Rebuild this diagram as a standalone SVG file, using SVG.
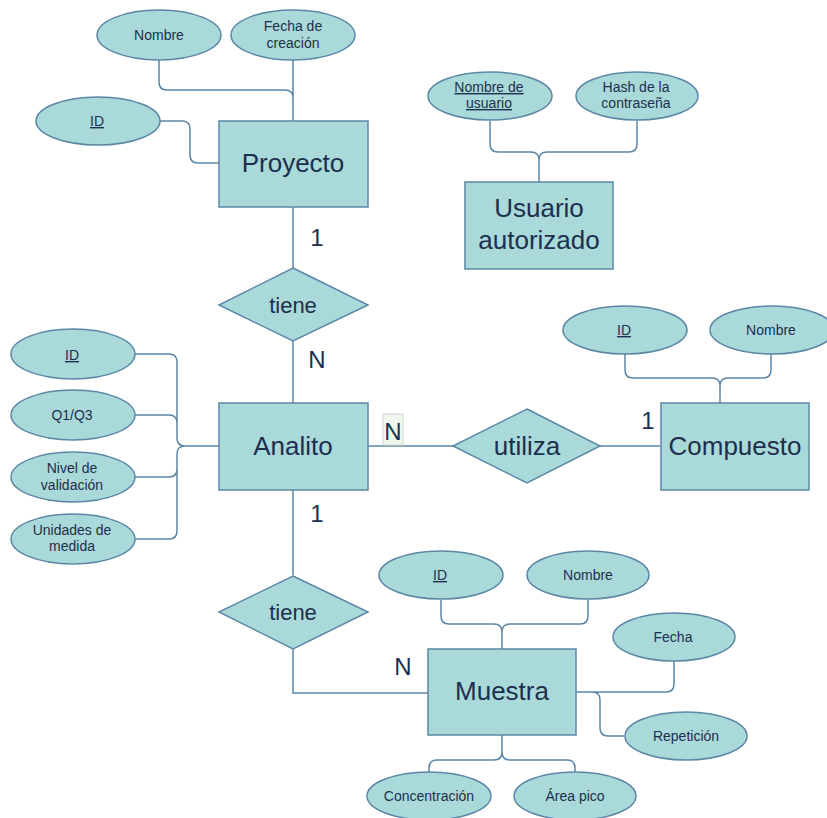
<svg xmlns="http://www.w3.org/2000/svg" width="827" height="818" viewBox="0 0 827 818">
<style>
.shape{fill:#a9d9d9;stroke:#5b87a6;stroke-width:1.5}
.conn{fill:none;stroke:#5b87a6;stroke-width:1.5}
text{font-family:"Liberation Sans",Arial,sans-serif;fill:#1d2f4e;text-anchor:middle}
.ent{font-size:26px}
.rel{font-size:22px}
.att{font-size:14px}
.card{font-size:24px}
.u{text-decoration:underline}
</style>
<rect width="827" height="818" fill="#ffffff"/>
<g id="connectors">
<path class="conn" d="M293,207 V268 M293,341 V403 M368,446 H453 M600,446 H661 M293,490 V575 M293,649 V693 H428"/>
<path class="conn" d="M160,121 H182 Q190,121 190,129 V155 Q190,163 198,163 H219"/>
<path class="conn" d="M159,60 V82 Q159,90 167,90 H285 Q293,90 293,98 M293,60 V121"/>
<path class="conn" d="M490,121 V144 Q490,152 498,152 H531 Q539,152 539,160 V182 M637,121 V144 Q637,152 629,152 H547 Q539,152 539,160"/>
<path class="conn" d="M135,354 H169 Q177,354 177,362 V438 Q177,446 185,446 H219 M135,415 H169 Q177,415 177,423 V438 M135,477 H169 Q177,477 177,469 V454 Q177,446 185,446 M135,539 H169 Q177,539 177,531 V454"/>
<path class="conn" d="M625,354 V370 Q625,378 633,378 H712 Q720,378 720,386 V403 M771,354 V370 Q771,378 763,378 H728 Q720,378 720,386"/>
<path class="conn" d="M441,600 V616 Q441,624 449,624 H494 Q502,624 502,632 V649 M588,600 V616 Q588,624 580,624 H510 Q502,624 502,632"/>
<path class="conn" d="M576,692 H666 Q674,692 674,684 V661 M576,692 H592 Q600,692 600,700 V728 Q600,736 608,736 H624"/>
<path class="conn" d="M502,735 V752 Q502,760 494,760 H437 Q429,760 429,768 V772 M502,752 Q502,760 510,760 H567 Q575,760 575,768 V772"/>
</g>
<g id="cardinalities">
<text class="card" x="317" y="246">1</text>
<text class="card" x="317" y="368">N</text>
<rect x="383" y="414" width="20" height="31" fill="#f0f8ee" stroke="#cfd6cf" stroke-width="1"/>
<text class="card" x="393" y="440">N</text>
<text class="card" x="648" y="429">1</text>
<text class="card" x="317" y="522">1</text>
<text class="card" x="403" y="675">N</text>
</g>
<g id="proyecto">
<rect class="shape" x="219" y="121" width="149" height="86"/>
<text class="ent" x="293" y="172">Proyecto</text>
</g>
<g id="proyecto-nombre">
<ellipse class="shape" cx="159" cy="35" rx="62" ry="25"/>
<text class="att" x="159" y="40">Nombre</text>
</g>
<g id="proyecto-fecha">
<ellipse class="shape" cx="293" cy="35" rx="62" ry="25"/>
<text class="att" x="293" y="31">Fecha de</text>
<text class="att" x="293" y="48">creación</text>
</g>
<g id="proyecto-id">
<ellipse class="shape" cx="98" cy="121" rx="62" ry="24"/>
<text class="att u" x="97" y="126">ID</text>
</g>
<g id="usuario">
<rect class="shape" x="465" y="182" width="148" height="87"/>
<text class="ent" x="539" y="217">Usuario</text>
<text class="ent" x="539" y="249">autorizado</text>
</g>
<g id="usuario-nombre">
<ellipse class="shape" cx="490" cy="96" rx="62" ry="24"/>
<text class="att u" x="489" y="92">Nombre de</text>
<text class="att u" x="489" y="108">usuario</text>
</g>
<g id="usuario-hash">
<ellipse class="shape" cx="637" cy="96" rx="61" ry="24"/>
<text class="att" x="636" y="92">Hash de la</text>
<text class="att" x="636" y="108">contraseña</text>
</g>
<g id="tiene1">
<polygon class="shape" points="293,268 368,305 293,341 219,305"/>
<text class="rel" x="293" y="313">tiene</text>
</g>
<g id="analito">
<rect class="shape" x="219" y="403" width="149" height="87"/>
<text class="ent" x="293" y="455">Analito</text>
</g>
<g id="analito-id">
<ellipse class="shape" cx="73" cy="354" rx="62" ry="25"/>
<text class="att u" x="72" y="360">ID</text>
</g>
<g id="analito-q">
<ellipse class="shape" cx="73" cy="415" rx="62" ry="25"/>
<text class="att" x="72" y="420">Q1/Q3</text>
</g>
<g id="analito-nivel">
<ellipse class="shape" cx="73" cy="477" rx="62" ry="25"/>
<text class="att" x="72" y="473">Nivel de</text>
<text class="att" x="72" y="490">validación</text>
</g>
<g id="analito-unidades">
<ellipse class="shape" cx="73" cy="539" rx="62" ry="25"/>
<text class="att" x="72" y="535">Unidades de</text>
<text class="att" x="72" y="551">medida</text>
</g>
<g id="utiliza">
<polygon class="shape" points="527,409 600,446 527,483 453,446"/>
<text class="ent" x="527" y="455">utiliza</text>
</g>
<g id="compuesto">
<rect class="shape" x="661" y="403" width="148" height="87"/>
<text class="ent" x="735" y="455">Compuesto</text>
</g>
<g id="compuesto-id">
<ellipse class="shape" cx="625" cy="330" rx="62" ry="24"/>
<text class="att u" x="624" y="335">ID</text>
</g>
<g id="compuesto-nombre">
<ellipse class="shape" cx="772" cy="330" rx="62" ry="24"/>
<text class="att" x="771" y="335">Nombre</text>
</g>
<g id="tiene2">
<polygon class="shape" points="293,576 368,612 293,649 219,612"/>
<text class="rel" x="293" y="620">tiene</text>
</g>
<g id="muestra">
<rect class="shape" x="428" y="649" width="148" height="86"/>
<text class="ent" x="502" y="700">Muestra</text>
</g>
<g id="muestra-id">
<ellipse class="shape" cx="441" cy="575" rx="62" ry="24"/>
<text class="att u" x="440" y="580">ID</text>
</g>
<g id="muestra-nombre">
<ellipse class="shape" cx="588" cy="575" rx="61" ry="24"/>
<text class="att" x="588" y="580">Nombre</text>
</g>
<g id="muestra-fecha">
<ellipse class="shape" cx="674" cy="637" rx="61" ry="24"/>
<text class="att" x="673" y="642">Fecha</text>
</g>
<g id="muestra-repeticion">
<ellipse class="shape" cx="686" cy="736" rx="61" ry="24"/>
<text class="att" x="686" y="741">Repetición</text>
</g>
<g id="muestra-concentracion">
<ellipse class="shape" cx="429" cy="796" rx="62" ry="24"/>
<text class="att" x="429" y="801">Concentración</text>
</g>
<g id="muestra-area">
<ellipse class="shape" cx="575" cy="796" rx="61" ry="24"/>
<text class="att" x="575" y="801">Área pico</text>
</g>
</svg>
